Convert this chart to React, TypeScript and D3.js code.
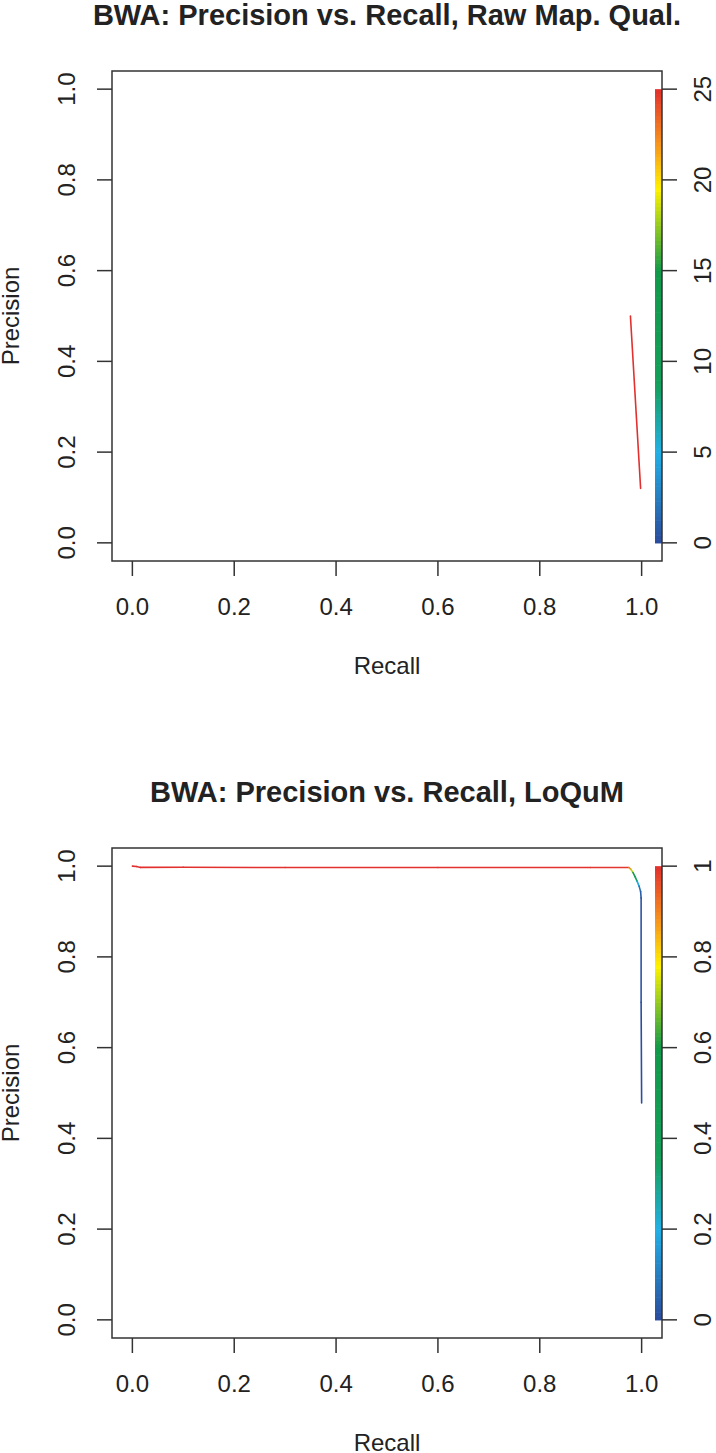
import React from "react";
import * as d3 from "d3";

// top panel: raw mapping quality threshold
const RAW_RECALL = [0.978, 0.998];
const RAW_PRECISION = [0.5, 0.12];
const RAW_THRESHOLD = [25, 25];
const RAW_BAR_TICKS = [0, 5, 10, 15, 20, 25];

// bottom panel: LoQuM threshold
const LQ_RECALL = [0, 0.008, 0.016, 0.1, 0.3, 0.6, 0.9, 0.975, 0.979, 0.983, 0.987, 0.991, 0.995, 0.998, 0.999, 0.999, 1.0];
const LQ_PRECISION = [1.0, 0.9992, 0.9972, 0.9975, 0.997, 0.997, 0.997, 0.997, 0.993, 0.986, 0.977, 0.967, 0.956, 0.944, 0.93, 0.7, 0.478];
const LQ_THRESHOLD = [1, 1, 1, 1, 0.999, 0.998, 0.995, 0.99, 0.8, 0.65, 0.45, 0.25, 0.12, 0.05, 0.02, 0.01, 0];
const LQ_BAR_TICKS = [0, 0.2, 0.4, 0.6, 0.8, 1];

const AXIS_TICKS = [0, 0.2, 0.4, 0.6, 0.8, 1.0];

const RAMP_STOPS = [0, 0.2, 0.35, 0.6, 0.78, 0.88, 1];
const RAMP_COLORS = ["#2b4b9b", "#22b0e6", "#14a05a", "#12994a", "#fff200", "#f7941d", "#e2302e"];

const FONT = "'Liberation Sans', Arial, Helvetica, sans-serif";
const INK = "#222";

const W = 716;
const H = 1453;

function translate(x: number, y: number) {
  return `translate(${x}, ${y})`;
}

type PanelProps = {
  top: number;
  title: string;
  recall: number[];
  precision: number[];
  threshold: number[];
  barMax: number;
  barTicks: number[];
};

function Panel({ top, title, recall, precision, threshold, barMax, barTicks }: PanelProps) {
  const left = 112;
  const right = 662;
  const boxTop = top + 71;
  const boxBottom = top + 561;

  const x = d3.scaleLinear().domain([-0.04, 1.04]).range([left, right]);
  const y = d3.scaleLinear().domain([-0.04, 1.04]).range([boxBottom, boxTop]);
  const bar = d3.scaleLinear().domain([0, barMax]).range([y(0), y(1)]);
  const color = d3
    .scaleLinear<string>()
    .domain(RAMP_STOPS.map((s) => s * barMax))
    .range(RAMP_COLORS)
    .interpolate(d3.interpolateRgb);

  const pts = recall.map((r, i) => ({ r, p: precision[i], t: threshold[i] }));
  const segs = d3.pairs(pts);
  const steps = d3.range(0, 120);
  const stepH = (bar(0) - bar(barMax)) / steps.length;
  const fmt = barMax > 1 ? d3.format("d") : (v: number) => (v === 1 || v === 0 ? String(v) : d3.format(".1f")(v));

  return (
    <g fontFamily={FONT} fill={INK}>
      <text x={(left + right) / 2} y={top + 25} textAnchor="middle" fontSize={29} fontWeight="bold">
        {title}
      </text>

      {segs.map(([a, b], i) => (
        <line
          key={i}
          x1={x(a.r)}
          y1={y(a.p)}
          x2={x(b.r)}
          y2={y(b.p)}
          stroke={color((a.t + b.t) / 2)}
          strokeWidth={1.6}
          strokeLinecap="round"
        />
      ))}

      {steps.map((s) => (
        <rect
          key={s}
          x={655}
          y={bar(0) - (s + 1) * stepH}
          width={7}
          height={stepH + 0.6}
          fill={color(((s + 0.5) / steps.length) * barMax)}
        />
      ))}

      <rect x={left} y={boxTop} width={right - left} height={boxBottom - boxTop} fill="none" stroke="#333" strokeWidth={1.5} />

      {AXIS_TICKS.map((v) => (
        <g key={"x" + v}>
          <line x1={x(v)} x2={x(v)} y1={boxBottom} y2={boxBottom + 15} stroke="#333" strokeWidth={1.5} />
          <text x={x(v)} y={top + 615} textAnchor="middle" fontSize={24}>
            {d3.format(".1f")(v)}
          </text>
        </g>
      ))}

      {AXIS_TICKS.map((v) => (
        <g key={"y" + v}>
          <line x1={left - 15} x2={left} y1={y(v)} y2={y(v)} stroke="#333" strokeWidth={1.5} />
          <text transform={translate(75, y(v)) + " rotate(-90)"} textAnchor="middle" fontSize={24}>
            {d3.format(".1f")(v)}
          </text>
        </g>
      ))}

      {barTicks.map((v) => (
        <g key={"b" + v}>
          <line x1={right} x2={right + 15} y1={bar(v)} y2={bar(v)} stroke="#333" strokeWidth={1.5} />
          <text transform={translate(711, bar(v)) + " rotate(-90)"} textAnchor="middle" fontSize={24}>
            {fmt(v)}
          </text>
        </g>
      ))}

      <text x={(left + right) / 2} y={top + 674} textAnchor="middle" fontSize={24}>
        Recall
      </text>
      <text transform={translate(19, (boxTop + boxBottom) / 2) + " rotate(-90)"} textAnchor="middle" fontSize={24}>
        Precision
      </text>
    </g>
  );
}

const App = () => {
  return (
    <svg width={W} height={H} style={{ position: "absolute", left: 0, top: 0, background: "#fff" }}>
      <rect width={W} height={H} fill="#fff" />
      <Panel
        top={0}
        title="BWA: Precision vs. Recall, Raw Map. Qual."
        recall={RAW_RECALL}
        precision={RAW_PRECISION}
        threshold={RAW_THRESHOLD}
        barMax={25}
        barTicks={RAW_BAR_TICKS}
      />
      <Panel
        top={777}
        title="BWA: Precision vs. Recall, LoQuM"
        recall={LQ_RECALL}
        precision={LQ_PRECISION}
        threshold={LQ_THRESHOLD}
        barMax={1}
        barTicks={LQ_BAR_TICKS}
      />
    </svg>
  );
};

export default App;
